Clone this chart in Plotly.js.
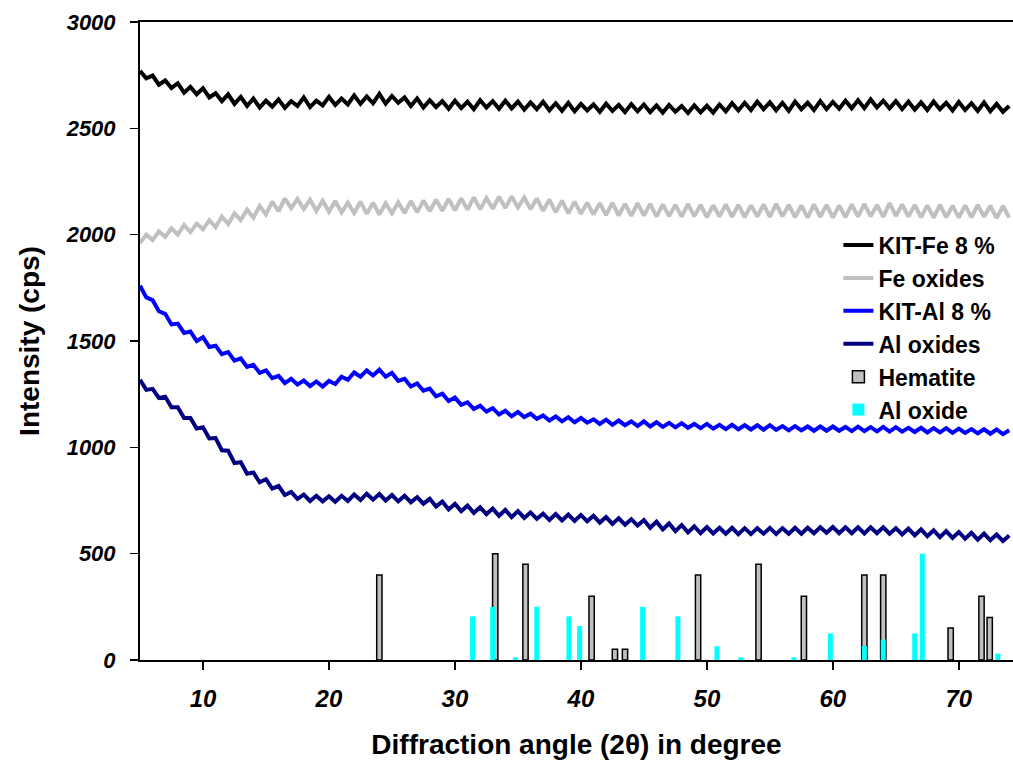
<!DOCTYPE html>
<html>
<head>
<meta charset="utf-8">
<script src="https://cdn.plot.ly/plotly-3.0.1.min.js"></script>
<style>html,body{margin:0;padding:0;background:#fff;}#chart{width:1013px;height:771px;}</style>
</head>
<body>
<div id="chart"></div>
<script>
// 2-theta angles (degree)
var angle = [5,5.5,6,6.5,7,7.5,8,8.5,9,9.5,10,10.5,11,11.5,12,12.5,13,13.5,14,14.5,
15,15.5,16,16.5,17,17.5,18,18.5,19,19.5,20,20.5,21,21.5,22,22.5,23,23.5,24,24.5,
25,25.5,26,26.5,27,27.5,28,28.5,29,29.5,30,30.5,31,31.5,32,32.5,33,33.5,34,34.5,
35,35.5,36,36.5,37,37.5,38,38.5,39,39.5,40,40.5,41,41.5,42,42.5,43,43.5,44,44.5,
45,45.5,46,46.5,47,47.5,48,48.5,49,49.5,50,50.5,51,51.5,52,52.5,53,53.5,54,54.5,
55,55.5,56,56.5,57,57.5,58,58.5,59,59.5,60,60.5,61,61.5,62,62.5,63,63.5,64,64.5,
65,65.5,66,66.5,67,67.5,68,68.5,69,69.5,70,70.5,71,71.5,72,72.5,73,73.5,74];

var kitFe = [2770,2735,2748,2705,2725,2690,2712,2668,2695,2660,2688,2645,2665,2628,2660,2615,2648,2605,2640,2598,
2630,2602,2636,2596,2628,2605,2645,2600,2630,2608,2648,2610,2640,2612,2655,2615,2650,2618,2662,2616,
2652,2620,2645,2605,2640,2598,2632,2600,2628,2592,2630,2595,2625,2590,2632,2598,2628,2592,2630,2594,
2626,2588,2622,2590,2625,2585,2618,2582,2620,2580,2615,2584,2612,2578,2616,2582,2610,2576,2614,2580,
2612,2576,2608,2574,2610,2578,2605,2572,2608,2575,2606,2574,2612,2580,2618,2584,2620,2586,2625,2590,
2622,2585,2620,2582,2626,2590,2620,2586,2628,2590,2624,2592,2630,2594,2632,2595,2636,2598,2630,2594,
2628,2590,2625,2588,2622,2586,2626,2590,2620,2584,2624,2586,2618,2582,2622,2580,2615,2578,2605];

var feOx = [1960,2000,1975,2015,1990,2030,2000,2045,2012,2052,2025,2068,2035,2085,2050,2100,2068,2118,2080,2135,
2095,2155,2110,2170,2125,2168,2120,2165,2112,2160,2108,2158,2105,2150,2102,2155,2098,2150,2095,2148,
2100,2152,2102,2158,2105,2160,2110,2165,2112,2168,2115,2170,2118,2175,2120,2172,2122,2178,2125,2180,
2128,2175,2120,2170,2112,2165,2105,2160,2100,2155,2098,2150,2095,2148,2092,2150,2090,2145,2088,2148,
2090,2145,2085,2142,2088,2140,2085,2145,2086,2140,2082,2138,2085,2142,2084,2140,2082,2138,2085,2142,
2084,2145,2086,2140,2082,2138,2080,2142,2084,2140,2080,2138,2082,2142,2085,2145,2086,2140,2084,2148,
2088,2142,2085,2140,2082,2138,2080,2140,2082,2136,2080,2138,2082,2140,2084,2136,2078,2135,2080];

var kitAl = [1760,1705,1692,1640,1628,1578,1582,1538,1545,1500,1518,1472,1478,1438,1448,1408,1418,1378,1388,1350,
1362,1325,1336,1302,1322,1295,1314,1288,1310,1286,1312,1298,1332,1318,1352,1332,1362,1338,1365,1332,
1350,1312,1322,1286,1300,1266,1276,1240,1252,1218,1234,1200,1212,1180,1196,1168,1184,1154,1172,1146,
1166,1142,1158,1134,1150,1126,1145,1122,1142,1118,1138,1116,1132,1110,1130,1106,1126,1104,1122,1100,
1122,1098,1118,1096,1115,1094,1114,1092,1110,1090,1110,1088,1106,1086,1106,1085,1104,1084,1104,1083,
1104,1082,1100,1080,1100,1080,1098,1078,1098,1078,1098,1078,1096,1076,1097,1076,1095,1075,1096,1074,
1095,1074,1092,1072,1092,1070,1090,1070,1090,1068,1088,1068,1086,1066,1085,1064,1084,1062,1080];

var alOx = [1318,1270,1275,1232,1238,1188,1188,1138,1138,1088,1094,1042,1044,986,984,926,930,876,882,836,
850,806,818,776,790,758,778,748,772,746,770,744,772,748,778,752,782,754,780,750,
776,746,772,742,766,735,758,722,745,708,734,700,726,692,718,686,712,678,706,672,
700,668,694,664,688,658,686,656,684,654,682,652,678,646,672,640,666,636,662,632,
658,622,650,614,642,606,634,600,628,596,625,595,622,594,622,592,620,592,620,594,
621,592,620,594,622,594,622,596,624,598,625,596,624,596,624,595,624,596,624,594,
620,590,618,586,614,582,610,578,606,574,602,570,598,566,594,563,590,560,586];

// Reference peaks
var hematitePos = [24.0,33.2,35.6,40.85,42.7,43.5,49.3,54.1,57.7,62.5,64.0,69.35,71.8,72.45];
var hematiteInt = [400,500,450,300,50,50,400,450,300,400,400,150,300,200];

var aloxPos = [31.4,33.0,34.8,36.5,39.05,39.9,44.9,47.7,50.8,52.7,56.9,59.8,62.5,64.0,66.5,67.1,73.1];
var aloxInt = [205,250,13,250,205,160,250,205,65,13,13,125,66,96,125,500,30];

var xTicks = [10,20,30,40,50,60,70];
var yTicks = [0,500,1000,1500,2000,2500,3000];

var FONT = "Liberation Sans, Arial, Helvetica, sans-serif";

var traces = [
  {x: angle, y: kitFe, type: 'scatter', mode: 'lines', name: 'KIT-Fe 8 %', line: {color: '#000000', width: 4}},
  {x: angle, y: feOx, type: 'scatter', mode: 'lines', name: 'Fe oxides', line: {color: '#c0c0c0', width: 4}},
  {x: angle, y: kitAl, type: 'scatter', mode: 'lines', name: 'KIT-Al 8 %', line: {color: '#0000ff', width: 4}},
  {x: angle, y: alOx, type: 'scatter', mode: 'lines', name: 'Al oxides', line: {color: '#000080', width: 4}},
  {x: hematitePos, y: hematiteInt, type: 'bar', name: 'Hematite', width: 0.42,
   marker: {color: '#c0c0c0', line: {color: '#000000', width: 1.5}}},
  {x: aloxPos, y: aloxInt, type: 'bar', name: 'Al oxide', width: 0.4,
   marker: {color: '#00ffff', line: {width: 0}}}
];

var layout = {
  width: 1013, height: 771,
  margin: {l: 140, r: 0, t: 22, b: 111},
  paper_bgcolor: '#ffffff', plot_bgcolor: '#ffffff',
  font: {family: FONT, color: '#000000'},
  barmode: 'overlay',
  showlegend: true,
  legend: {
    x: 0.8, y: 0.684, xanchor: 'left', yanchor: 'top',
    bgcolor: 'rgba(0,0,0,0)', borderwidth: 0,
    font: {family: FONT, size: 23, weight: 'bold', color: '#000000'},
    tracegroupgap: 0
  },
  xaxis: {
    range: [5, 74.3], tickvals: xTicks, ticktext: xTicks.map(String),
    showline: true, linecolor: '#000000', linewidth: 2, mirror: true,
    ticks: 'outside', ticklen: 8, tickwidth: 1.5, tickcolor: '#000000',
    ticklabelstandoff: 8,
    showgrid: false, zeroline: false,
    tickfont: {family: FONT, size: 24, weight: 'bold', style: 'italic', color: '#000000'},
    title: {text: 'Diffraction angle (2θ) in degree', standoff: 24,
            font: {family: FONT, size: 28, weight: 'bold', color: '#000000'}},
    automargin: false
  },
  yaxis: {
    range: [0, 3000], tickvals: yTicks, ticktext: yTicks.map(String),
    showline: true, linecolor: '#000000', linewidth: 2,
    ticks: 'outside', ticklen: 8, tickwidth: 1.5, tickcolor: '#000000',
    ticklabelstandoff: 10,
    showgrid: false, zeroline: false,
    tickfont: {family: FONT, size: 22, weight: 'bold', style: 'italic', color: '#000000'},
    title: {text: 'Intensity (cps)', standoff: 18,
            font: {family: FONT, size: 28, weight: 'bold', color: '#000000'}},
    automargin: false
  }
};

Plotly.newPlot('chart', traces, layout, {displayModeBar: false, staticPlot: true});
</script>
</body>
</html>
